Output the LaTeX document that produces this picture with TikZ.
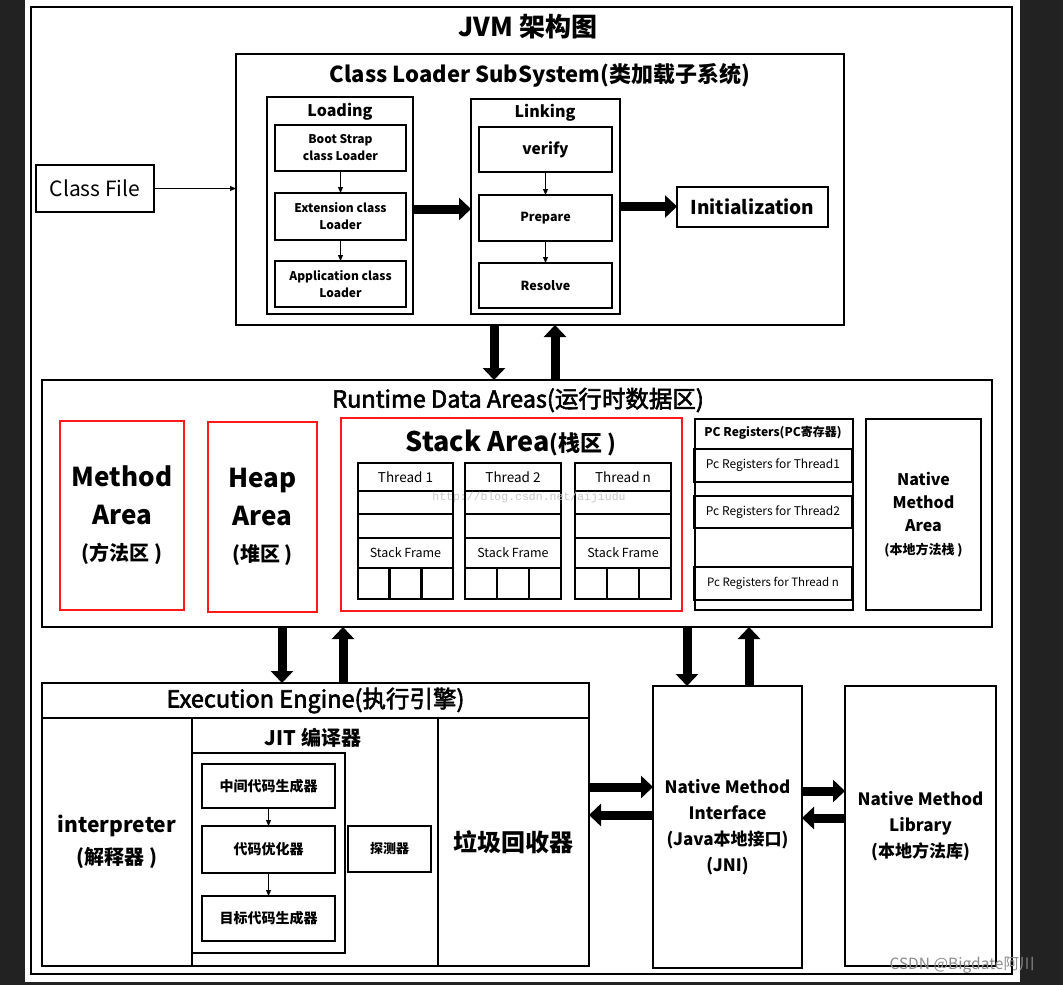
\documentclass[tikz,border=0pt]{standalone}
\usepackage{fontspec}
\setmainfont{Noto Sans CJK SC}
\newfontfamily\wmfont{Liberation Mono}
\newfontfamily\semib[FakeBold=2.5]{Noto Sans CJK SC}
\usetikzlibrary{arrows.meta}
\definecolor{bgdark}{HTML}{222222}
\definecolor{redline}{HTML}{FF1A1A}
\newcommand\fs[2]{\fontsize{#1}{#2}\selectfont}
% [style]{x1}{y1}{x2}{y2}{name}{text}
\newcommand\bx[7][]{\node[box,#1,minimum width={(#4-#2)*1pt},minimum height={(#5-#3)*1pt}] (#6) at ({(#2+#4)/2},{(#3+#5)/2}) {#7};}
\newcommand\stackcol[4]{%
  \bx[colbox,font=\fs{13.5}{16}]{#2}{463}{#3}{491}{#1h}{#4}
  \bx[colbox]{#2}{491}{#3}{514}{#1a}{}
  \bx[colbox]{#2}{514}{#3}{538}{#1b}{}
  \bx[colbox,font=\fs{12.5}{15}]{#2}{538}{#3}{568}{#1f}{Stack Frame}
  \bx[colbox]{#2}{568}{(#2+(#3-#2)/3)}{599}{#1c}{}
  \bx[colbox]{(#2+(#3-#2)/3)}{568}{(#2+2*(#3-#2)/3)}{599}{#1d}{}
  \bx[colbox]{(#2+2*(#3-#2)/3)}{568}{#3}{599}{#1e}{}
}
\begin{document}
\begin{tikzpicture}[x=1pt,y=-1pt,
  box/.style={draw,line width=1.5pt,inner sep=0pt,outer sep=0pt,align=center},
  thinbox/.style={line width=1.1pt},
  thickbox/.style={line width=2.5pt},
  colbox/.style={line width=2.4pt},
  redbox/.style={draw=redline,line width=1.1pt},
  redthick/.style={draw=redline,line width=2.2pt},
  lbl/.style={inner sep=0pt,align=center},
  bigarrow/.style={line width=9pt,-{Triangle[length=12pt,width=22pt]}},
  smallarrow/.style={line width=1pt,-{Triangle[length=6pt,width=5pt]}}]
\useasboundingbox (0,0) rectangle (1063,985);
\fill[bgdark] (0,0) rectangle (1063,985);
\fill[white] (25,0) rectangle (1020,982);

% outer frame and title
\bx[thickbox]{31}{7}{1012}{974}{outer}{}
\node[lbl,font=\fs{26}{29}\bfseries] (title) at (528,27) {JVM 架构图};

% ---- class loader subsystem
\bx[thickbox]{236}{54}{844}{325}{cls}{}
\node[lbl,font=\fs{22}{25}\bfseries] (clst) at (540,75) {Class Loader SubSystem(类加载子系统)};
\bx[line width=1.3pt,font=\fs{21}{24}]{36}{165}{154}{212}{cf}{Class File}

\bx[thinbox]{267}{97}{413}{314}{load}{}
\node[lbl,font=\fs{16}{19}\bfseries] (loadt) at (340,112) {Loading};
\bx[font=\fs{12}{17}\bfseries]{275}{125}{406}{171}{boot}{Boot Strap\\class Loader}
\bx[font=\fs{12}{17}\bfseries]{275}{193}{406}{240}{ext}{Extension class\\Loader}
\bx[font=\fs{12}{17}\bfseries]{275}{261}{406}{307}{app}{Application class\\Loader}

\bx[thinbox]{471}{99}{620}{314}{link}{}
\node[lbl,font=\fs{16}{19}\bfseries] (linkt) at (545,113) {Linking};
\bx[font=\fs{15.5}{19}\bfseries]{479}{127}{612}{172}{verify}{verify}
\bx[font=\fs{12.5}{15}\bfseries]{479}{195}{612}{241}{prep}{Prepare}
\bx[font=\fs{12.5}{15}\bfseries]{479}{263}{612}{308}{res}{Resolve}

\bx[line width=1.3pt,font=\fs{19}{22}\bfseries]{677}{187}{828}{227}{init}{Initialization}

\draw[smallarrow] (cf.east) -- (cf.east -| cls.west);
\draw[smallarrow] (boot.south) -- (ext.north);
\draw[smallarrow] (ext.south) -- (app.north);
\draw[smallarrow] (verify.south) -- (prep.north);
\draw[smallarrow] (prep.south) -- (res.north);
\draw[bigarrow] ([yshift=-3.5pt]load.east) -- ([yshift=-3.5pt]load.east -| link.west);
\draw[bigarrow] (link.east) -- (link.east -| init.west);

% ---- runtime data areas
\bx[thickbox]{42}{380}{992}{627}{rt}{}
\node[lbl,font=\semib\fs{23.5}{26}] (rtt) at (518,400) {Runtime Data Areas(运行时数据区)};

\draw[bigarrow] ([xshift=-46pt]cls.south) -- ([xshift=-46pt]cls.south |- rt.north);
\draw[bigarrow] ([xshift=15pt]cls.south |- rt.north) -- ([xshift=15pt]cls.south);

\bx[redbox,font=\fs{26}{38}\bfseries]{60}{421}{184}{610}{meth}{Method\\Area\\[-2pt]\fs{20}{38}(方法区 )}
\bx[redbox,font=\fs{26}{38}\bfseries]{208}{422}{317}{612}{heap}{Heap\\Area\\[-2pt]\fs{20}{38}(堆区 )}
\bx[redthick]{341}{418}{682}{611}{stack}{}
\node[lbl,font=\fs{27}{30}\bfseries] (stackt) at (511,443) {Stack Area\fs{22}{30}(栈区 )};
\stackcol{ta}{358}{453}{Thread 1}
\stackcol{tb}{465}{561}{Thread 2}
\stackcol{tc}{575}{671}{Thread n}
\node[lbl,text=black!22,font=\wmfont\fs{11.5}{13}] (wm1) at (529,498) {http://blog.csdn.net/aijiudu};

\bx[thinbox]{695}{419}{853}{610}{pc}{}
\node[lbl,font=\fs{12}{14}\bfseries] (pct) at (773,433) {PC Registers(PC寄存器)};
\bx[line width=2pt,font=\fs{12}{14}]{694}{449}{852}{482}{pca}{Pc Registers for Thread1}
\bx[line width=2pt,font=\fs{12}{14}]{694}{496}{852}{528}{pcb}{Pc Registers for Thread2}
\bx[line width=2pt,font=\fs{11.5}{14}]{694}{567}{852}{600}{pcn}{Pc Registers for Thread n}

\bx[thinbox,font=\fs{16}{23}\bfseries]{866}{419}{981}{610}{nma}{Native\\Method\\Area\\\fs{13}{23}(本地方法栈 )}

% ---- execution engine
\bx[thickbox]{42}{683}{589}{966}{ee}{}
\bx[thickbox,font=\semib\fs{23.5}{26}]{42}{683}{589}{718}{eeh}{Execution Engine(执行引擎)}
\bx[thickbox,font=\fs{21}{32}\bfseries]{42}{718}{192}{966}{interp}{interpreter\\\fs{20}{32}(解释器 )}
\bx[thickbox]{192}{718}{438}{966}{jit}{}
\bx[thickbox,font=\fs{24}{27}\bfseries]{438}{718}{589}{966}{gc}{垃圾回收器}
\node[lbl,font=\fs{20}{23}\bfseries] (jitt) at (313,738) {JIT 编译器};
\bx[thinbox]{192}{753}{345}{953}{jitin}{}
\bx[font=\fs{14}{16}\bfseries]{202}{764}{335}{808}{ja}{中间代码生成器}
\bx[font=\fs{14}{16}\bfseries]{202}{826}{335}{873}{jb}{代码优化器}
\bx[font=\fs{14}{16}\bfseries]{202}{896}{335}{941}{jc}{目标代码生成器}
\bx[font=\fs{13}{15}\bfseries]{348}{826}{431}{872}{probe}{探测器}
\draw[smallarrow] (ja.south) -- (jb.north);
\draw[smallarrow] (jb.south) -- (jc.north);

% ---- native method interface / library
\bx[thickbox,font=\fs{17}{26}\bfseries]{653}{686}{802}{968}{nmi}{Native Method\\Interface\\(Java本地接口)\\(JNI)}
\bx[thickbox,font=\fs{17}{26}\bfseries]{845}{686}{996}{966}{nml}{Native Method\\Library\\(本地方法库)}

\draw[bigarrow] ([xshift=-235pt]rt.south) -- ([xshift=-235pt]rt.south |- ee.north);
\draw[bigarrow] ([xshift=-174pt]rt.south |- ee.north) -- ([xshift=-174pt]rt.south);
\draw[bigarrow] ([xshift=170pt]rt.south) -- ([xshift=170pt]rt.south |- nmi.north);
\draw[bigarrow] ([xshift=232pt]rt.south |- nmi.north) -- ([xshift=232pt]rt.south);

\draw[bigarrow] ([yshift=37.5pt]ee.east) -- ([yshift=37.5pt]ee.east -| nmi.west);
\draw[bigarrow] ([yshift=9.5pt]ee.east -| nmi.west) -- ([yshift=9.5pt]ee.east);
\draw[bigarrow] ([yshift=36pt]nmi.east) -- ([yshift=36pt]nmi.east -| nml.west);
\draw[bigarrow] ([yshift=9pt]nmi.east -| nml.west) -- ([yshift=9pt]nmi.east);

\node[lbl,text=black!45,font=\fs{15.5}{18}] (wm2) at (962,965) {CSDN @Bigdate阿川};
\end{tikzpicture}
\end{document}
